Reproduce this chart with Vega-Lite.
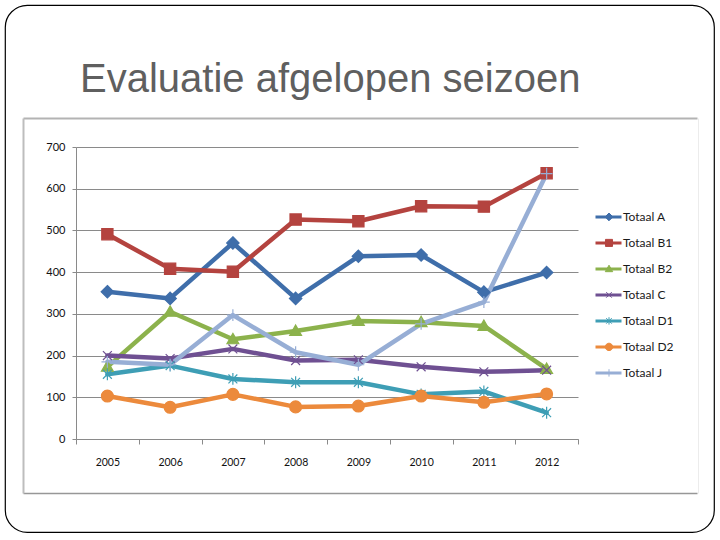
{
  "$schema": "https://vega.github.io/schema/vega-lite/v6.json",
  "autosize": "none",
  "width": 709,
  "height": 527,
  "padding": {"left": 5, "top": 5, "right": 6, "bottom": 8},
  "background": "#ffffff",
  "title": {
    "text": "Evaluatie afgelopen seizoen",
    "anchor": "start",
    "frame": "group",
    "orient": "top",
    "offset": -127,
    "baseline": "alphabetic",
    "dx": 75,
    "font": "Liberation Sans",
    "fontSize": 40,
    "fontWeight": "normal",
    "color": "#5f5f5f"
  },
  "config": {
    "view": {"stroke": "#000000", "strokeWidth": 1.2, "cornerRadius": 22}
  },
  "data": {
    "values": [
      {"jaar": "2005", "serie": "Totaal A", "waarde": 353},
      {"jaar": "2006", "serie": "Totaal A", "waarde": 337},
      {"jaar": "2007", "serie": "Totaal A", "waarde": 470},
      {"jaar": "2008", "serie": "Totaal A", "waarde": 337},
      {"jaar": "2009", "serie": "Totaal A", "waarde": 438},
      {"jaar": "2010", "serie": "Totaal A", "waarde": 441},
      {"jaar": "2011", "serie": "Totaal A", "waarde": 352},
      {"jaar": "2012", "serie": "Totaal A", "waarde": 399},
      {"jaar": "2005", "serie": "Totaal B1", "waarde": 491},
      {"jaar": "2006", "serie": "Totaal B1", "waarde": 408},
      {"jaar": "2007", "serie": "Totaal B1", "waarde": 401},
      {"jaar": "2008", "serie": "Totaal B1", "waarde": 526},
      {"jaar": "2009", "serie": "Totaal B1", "waarde": 522},
      {"jaar": "2010", "serie": "Totaal B1", "waarde": 558},
      {"jaar": "2011", "serie": "Totaal B1", "waarde": 557},
      {"jaar": "2012", "serie": "Totaal B1", "waarde": 637},
      {"jaar": "2005", "serie": "Totaal B2", "waarde": 173},
      {"jaar": "2006", "serie": "Totaal B2", "waarde": 305},
      {"jaar": "2007", "serie": "Totaal B2", "waarde": 239},
      {"jaar": "2008", "serie": "Totaal B2", "waarde": 259},
      {"jaar": "2009", "serie": "Totaal B2", "waarde": 283},
      {"jaar": "2010", "serie": "Totaal B2", "waarde": 280},
      {"jaar": "2011", "serie": "Totaal B2", "waarde": 271},
      {"jaar": "2012", "serie": "Totaal B2", "waarde": 168},
      {"jaar": "2005", "serie": "Totaal C", "waarde": 200},
      {"jaar": "2006", "serie": "Totaal C", "waarde": 193},
      {"jaar": "2007", "serie": "Totaal C", "waarde": 216},
      {"jaar": "2008", "serie": "Totaal C", "waarde": 188},
      {"jaar": "2009", "serie": "Totaal C", "waarde": 190},
      {"jaar": "2010", "serie": "Totaal C", "waarde": 173},
      {"jaar": "2011", "serie": "Totaal C", "waarde": 161},
      {"jaar": "2012", "serie": "Totaal C", "waarde": 165},
      {"jaar": "2005", "serie": "Totaal D1", "waarde": 155},
      {"jaar": "2006", "serie": "Totaal D1", "waarde": 176},
      {"jaar": "2007", "serie": "Totaal D1", "waarde": 144},
      {"jaar": "2008", "serie": "Totaal D1", "waarde": 136},
      {"jaar": "2009", "serie": "Totaal D1", "waarde": 136},
      {"jaar": "2010", "serie": "Totaal D1", "waarde": 107},
      {"jaar": "2011", "serie": "Totaal D1", "waarde": 114},
      {"jaar": "2012", "serie": "Totaal D1", "waarde": 63},
      {"jaar": "2005", "serie": "Totaal D2", "waarde": 103},
      {"jaar": "2006", "serie": "Totaal D2", "waarde": 76},
      {"jaar": "2007", "serie": "Totaal D2", "waarde": 107},
      {"jaar": "2008", "serie": "Totaal D2", "waarde": 77},
      {"jaar": "2009", "serie": "Totaal D2", "waarde": 79},
      {"jaar": "2010", "serie": "Totaal D2", "waarde": 103},
      {"jaar": "2011", "serie": "Totaal D2", "waarde": 88},
      {"jaar": "2012", "serie": "Totaal D2", "waarde": 108},
      {"jaar": "2005", "serie": "Totaal J", "waarde": 185},
      {"jaar": "2006", "serie": "Totaal J", "waarde": 178},
      {"jaar": "2007", "serie": "Totaal J", "waarde": 297},
      {"jaar": "2008", "serie": "Totaal J", "waarde": 208},
      {"jaar": "2009", "serie": "Totaal J", "waarde": 178},
      {"jaar": "2010", "serie": "Totaal J", "waarde": 276},
      {"jaar": "2011", "serie": "Totaal J", "waarde": 328},
      {"jaar": "2012", "serie": "Totaal J", "waarde": 636}
    ]
  },
  "resolve": {
    "scale": {"x": "independent", "y": "independent"},
    "axis": {"x": "independent", "y": "independent"}
  },
  "layer": [
    {
      "mark": {"type": "point", "opacity": 0},
      "encoding": {
        "x": {"field": "waarde", "type": "quantitative", "scale": {"domain": [0, 700], "range": [18, 692], "nice": false, "zero": false, "clamp": true},
              "axis": {"orient": "top", "offset": -113, "ticks": false, "labels": false, "grid": false, "title": null, "domainColor": "#b3b3b3", "domainWidth": 2}},
        "y": {"field": "waarde", "type": "quantitative", "scale": {"domain": [0, 700], "range": [488, 113], "nice": false, "zero": false, "clamp": true},
              "axis": {"orient": "right", "offset": -16, "ticks": false, "labels": false, "grid": false, "title": null, "domainColor": "#ececec", "domainWidth": 1}}
      }
    },
    {
      "mark": {"type": "point", "opacity": 0},
      "encoding": {
        "x": {"field": "waarde", "type": "quantitative", "scale": {"domain": [0, 700], "range": [18, 692], "nice": false, "zero": false, "clamp": true},
              "axis": {"orient": "bottom", "offset": -39, "ticks": false, "labels": false, "grid": false, "title": null, "domainColor": "#979797", "domainWidth": 1.5}},
        "y": {"field": "waarde", "type": "quantitative", "scale": {"domain": [0, 700], "range": [488, 113], "nice": false, "zero": false, "clamp": true},
              "axis": {"orient": "left", "offset": -18, "ticks": false, "labels": false, "grid": false, "title": null, "domainColor": "#bdbdbd", "domainWidth": 2}}
      }
    },
    {
      "layer": [
        {
          "mark": {"type": "line", "strokeWidth": 4.5, "strokeJoin": "round", "strokeCap": "round"},
          "encoding": {
            "x": {"field": "jaar", "type": "ordinal"},
            "y": {"field": "waarde", "type": "quantitative"},
            "color": {
              "field": "serie", "type": "nominal",
              "scale": {
                "domain": ["Totaal A", "Totaal B1", "Totaal B2", "Totaal C", "Totaal D1", "Totaal D2", "Totaal J"],
                "range": ["#3f6eaa", "#b4433f", "#8cb24c", "#6f5092", "#3e9eb5", "#ec8a3c", "#97aed5"]
              },
              "legend": {
                "title": null,
                "orient": "none",
                "legendX": 589,
                "legendY": 199,
                "symbolType": "stroke",
                "symbolSize": 676,
                "symbolStrokeWidth": 3,
                "clipHeight": 25.8,
                "rowPadding": 0,
                "labelFont": "Lato",
                "labelFontSize": 12,
                "labelColor": "#1a1a1a",
                "labelOffset": 0
              }
            }
          }
        },
        {
          "mark": {"type": "point", "opacity": 1, "size": 140, "strokeWidth": 1.2},
          "encoding": {
            "x": {"field": "jaar", "type": "ordinal"},
            "y": {"field": "waarde", "type": "quantitative"},
            "fill": {
              "field": "serie", "type": "nominal",
              "scale": {"range": ["#3f6eaa", "#b4433f", "#8cb24c", "#6f5092", "#3e9eb5", "#ec8a3c", "#97aed5"]},
              "legend": {"title": null, "orient": "none", "legendX": 599, "legendY": 199, "symbolSize": 55, "symbolStrokeWidth": 1, "clipHeight": 25.8, "rowPadding": 0, "labelExpr": "''", "labelOffset": 0}
            },
            "stroke": {
              "field": "serie", "type": "nominal",
              "scale": {"range": ["#3f6eaa", "#b4433f", "#8cb24c", "#6f5092", "#3e9eb5", "#ec8a3c", "#97aed5"]},
              "legend": {"title": null, "orient": "none", "legendX": 599, "legendY": 199, "symbolSize": 55, "symbolStrokeWidth": 1, "clipHeight": 25.8, "rowPadding": 0, "labelExpr": "''", "labelOffset": 0}
            },
            "shape": {
              "field": "serie", "type": "nominal",
              "scale": {
                "range": [
                  "M0,-1.05L1.05,0L0,1.05L-1.05,0Z",
                  "M-0.95,-0.95H0.95V0.95H-0.95Z",
                  "M0,-1L1,0.75H-1Z",
                  "M-0.75,-0.75L0.75,0.75M-0.75,0.75L0.75,-0.75",
                  "M-0.75,-0.75L0.75,0.75M-0.75,0.75L0.75,-0.75M0,-1V1",
                  "M1,0A1,1,0,1,1,-1,0A1,1,0,1,1,1,0Z",
                  "M-1,0H1M0,-1V1"
                ]
              },
              "legend": {"title": null, "orient": "none", "legendX": 599, "legendY": 199, "symbolSize": 55, "symbolStrokeWidth": 1, "clipHeight": 25.8, "rowPadding": 0, "labelExpr": "''", "labelOffset": 0}
            }
          }
        }
      ],
      "encoding": {
        "x": {
          "field": "jaar", "type": "ordinal",
          "scale": {"type": "band", "range": [71, 573], "paddingInner": 0, "paddingOuter": 0},
          "axis": {
            "orient": "bottom", "offset": -93, "title": null, "labelAngle": 0,
            "tickBand": "extent", "tickSize": 5, "tickColor": "#8a8a8a",
            "domainColor": "#8a8a8a", "labelPadding": 13,
            "labelFont": "Lato", "labelFontSize": 10.5, "labelColor": "#111111", "grid": false
          }
        },
        "y": {
          "field": "waarde", "type": "quantitative",
          "scale": {"domain": [0, 700], "range": [434, 142], "nice": false, "zero": true},
          "axis": {
            "orient": "left", "offset": -71, "title": null,
            "values": [0, 100, 200, 300, 400, 500, 600, 700],
            "tickSize": 4, "tickColor": "#8a8a8a", "domainColor": "#8a8a8a",
            "grid": true, "gridColor": "#8a8a8a", "gridOpacity": 1,
            "labelPadding": 7, "labelFont": "Lato", "labelFontSize": 11, "labelColor": "#111111"
          }
        }
      }
    }
  ]
}
